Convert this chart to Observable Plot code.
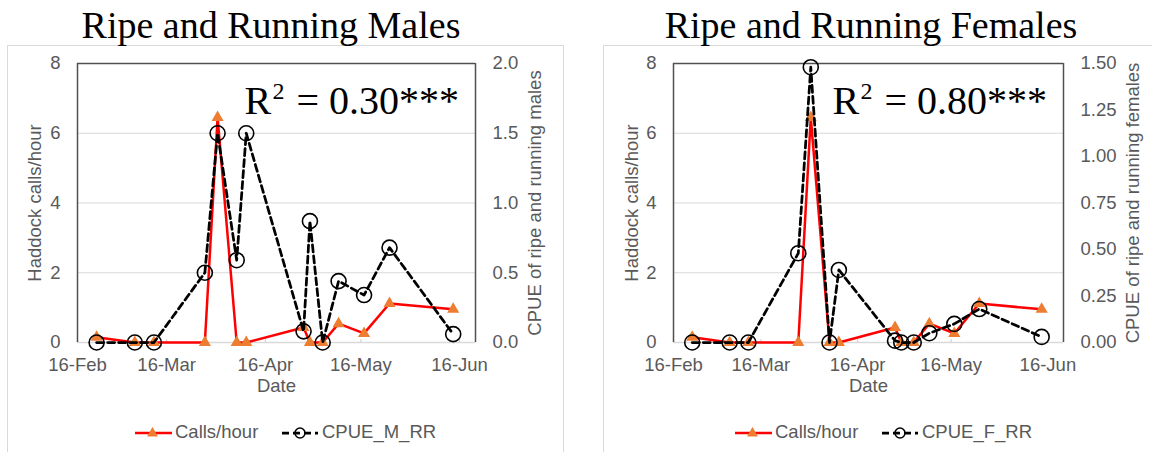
<!DOCTYPE html>
<html>
<head>
<meta charset="utf-8">
<script src="https://cdn.jsdelivr.net/npm/d3@7"></script>
<script src="https://cdn.jsdelivr.net/npm/@observablehq/plot@0.6"></script>
<style>
  html, body { margin: 0; padding: 0; background: white; }
  #root { position: relative; width: 1152px; height: 452px; overflow: hidden; background: white; font-family: "Liberation Sans", Arial, sans-serif; }
  .box { position: absolute; border: 1px solid #d9d9d9; }
  .title { position: absolute; font-family: "Liberation Serif", "Times New Roman", serif; font-size: 38px; color: #000; white-space: nowrap; transform: translateX(-50%); line-height: 1; }
  .plot { position: absolute; }
  .legend { position: absolute; font-size: 18.5px; color: #595959; white-space: nowrap; }
  .legend svg { position: absolute; overflow: visible; }
  .legend span { position: absolute; line-height: 1; }
</style>
</head>
<body>
<div id="root"></div>
<script>
// ---- data ----
const sampleDates = ["2019-02-22","2019-03-06","2019-03-12","2019-03-28","2019-04-01","2019-04-07","2019-04-10","2019-04-28","2019-04-30","2019-05-04","2019-05-09","2019-05-17","2019-05-25","2019-06-14"];
const callsPerHour = [0.15, 0, 0, 0, 6.45, 0, 0, 0.43, 0, 0, 0.54, 0.26, 1.12, 0.95];
const cpueMales   = [0, 0, 0, 0.50, 1.50, 0.59, 1.50, 0.08, 0.87, 0, 0.44, 0.34, 0.68, 0.06];
const cpueFemales = [0, 0, 0, 0.48, 1.48, 0, 0.39, 0.01, 0, 0, 0.05, 0.10, 0.18, 0.03];
const xDomain = ["2019-02-16", "2019-06-21"];
const tickDates = ["2019-02-16","2019-03-16","2019-04-16","2019-05-16","2019-06-16"];
const leftTicks = [0, 2, 4, 6, 8];
const rightTicksMales = [0, 0.5, 1.0, 1.5, 2.0];
const rightTicksFemales = [0, 0.25, 0.5, 0.75, 1.0, 1.25, 1.5];
const titles = ["Ripe and Running Males", "Ripe and Running Females"];
const r2Values = ["= 0.30***", "= 0.80***"];
const seriesNames = ["Calls/hour", "CPUE_M_RR", "CPUE_F_RR"];
const rightTitles = ["CPUE of ripe and running males", "CPUE of ripe and running females"];

const GRAY = "#595959";
const SERIF = "'Liberation Serif', 'Times New Roman', serif";
const fmtDate = d3.utcFormat("%d-%b");

function panel({cpue, rightTicks, digits, rightTitle, r2, width, ml, mr, leftDx, rightDx}) {
  const cpueMax = rightTicks[rightTicks.length - 1];
  const k = 8 / cpueMax;
  const data = sampleDates.map((d, i) => ({date: new Date(d), calls: callsPerHour[i], cpue: cpue[i] * k}));
  const dom = xDomain.map(d => new Date(d));
  const ticks = tickDates.map(d => new Date(d));
  return Plot.plot({
    width, height: 350,
    marginTop: 13, marginBottom: 58, marginLeft: ml, marginRight: mr,
    style: {fontFamily: "'Liberation Sans', Arial, sans-serif", fontSize: "18.5px", color: GRAY, background: "transparent", overflow: "visible"},
    x: {type: "utc", domain: dom},
    y: {domain: [0, 8]},
    marks: [
      Plot.gridY(leftTicks.filter(t => t > 0 && t < 8), {stroke: "#d9d9d9", strokeOpacity: 1, strokeWidth: 1.2}),
      Plot.ruleY([0], {stroke: "#d9d9d9", strokeWidth: 1.5}),
      Plot.ruleX(ticks, {x: d => d, y1: 0, y2: 0.25, insetBottom: -6, stroke: "#d0d0d0", strokeWidth: 1.2}),
      Plot.ruleY([8], {stroke: "#505050", strokeWidth: 1.5}),
      Plot.ruleX(dom, {x: d => d, stroke: "#505050", strokeWidth: 1.5}),
      Plot.axisY(leftTicks, {anchor: "left", tickSize: 0, tickPadding: 17, label: null, fill: GRAY}),
      Plot.axisY(rightTicks.map(t => t * k), {anchor: "right", tickSize: 0, tickPadding: 17, label: null, fill: GRAY, tickFormat: d => (d / k).toFixed(digits)}),
      Plot.axisX(ticks, {anchor: "bottom", tickSize: 0, tickPadding: 15, label: null, fill: GRAY, tickFormat: fmtDate}),
      Plot.text(["Haddock calls/hour"], {frameAnchor: "left", textAnchor: "middle", rotate: -90, dx: leftDx, fill: GRAY, fontSize: 18.5}),
      Plot.text([rightTitle], {frameAnchor: "right", textAnchor: "middle", rotate: -90, dx: rightDx, fill: GRAY, fontSize: 18.5}),
      Plot.text(["Date"], {frameAnchor: "bottom", dy: 49, fill: GRAY, fontSize: 18.5}),
      Plot.line(data, {x: "date", y: "calls", stroke: "#ff0000", strokeWidth: 2.5}),
      Plot.dot(data, {x: "date", y: "calls", symbol: "triangle", fill: "#ed7d31", r: 4.5}),
      Plot.line(data, {x: "date", y: "cpue", stroke: "black", strokeWidth: 2.75, strokeDasharray: "7,4"}),
      Plot.dot(data, {x: "date", y: "cpue", stroke: "black", strokeWidth: 1.6, r: 7.5, fill: "none"}),
      // R² annotation: "R", superscript "2", and value
      Plot.text(["R"], {frameAnchor: "top-right", dx: -231, dy: 50, textAnchor: "start", lineAnchor: "bottom", fontSize: 40, fontFamily: SERIF, fill: "black"}),
      Plot.text(["2"], {frameAnchor: "top-right", dx: -203, dy: 35, textAnchor: "start", lineAnchor: "bottom", fontSize: 24, fontFamily: SERIF, fill: "black"}),
      Plot.text([r2], {frameAnchor: "top-right", dx: -179, dy: 50, textAnchor: "start", lineAnchor: "bottom", fontSize: 40, fontFamily: SERIF, fill: "black"})
    ]
  });
}

const root = document.getElementById("root");
function add(html) { const d = document.createElement("div"); d.innerHTML = html; const el = d.firstElementChild; root.appendChild(el); return el; }

// panel boxes
add(`<div class="box" style="left:7px;top:45px;width:555px;height:440px;"></div>`);
add(`<div class="box" style="left:603px;top:45px;width:560px;height:440px;"></div>`);

// titles
add(`<div class="title" style="left:271px;top:6px;">${titles[0]}</div>`);
add(`<div class="title" style="left:871px;top:6px;">${titles[1]}</div>`);

// plots
const p1 = panel({cpue: cpueMales, rightTicks: rightTicksMales, digits: 1, rightTitle: rightTitles[0], r2: r2Values[0], width: 580, ml: 77, mr: 105, leftDx: -42, rightDx: 60});
const w1 = add(`<div class="plot" style="left:0px;top:50px;"></div>`); w1.appendChild(p1);
const p2 = panel({cpue: cpueFemales, rightTicks: rightTicksFemales, digits: 2, rightTitle: rightTitles[1], r2: r2Values[1], width: 572, ml: 93, mr: 89, leftDx: -41, rightDx: 70});
const w2 = add(`<div class="plot" style="left:580px;top:50px;"></div>`); w2.appendChild(p2);

// legends
function legend(x0, name) {
  const g = add(`<div class="legend" style="left:${x0}px;top:433px;"></div>`);
  g.innerHTML = `
    <svg width="1" height="1" style="left:0;top:0">
      <line x1="0" y1="0" x2="37" y2="0" stroke="#ff0000" stroke-width="2.5"/>
      <path d="M17.5,-6 L23,3.5 L12,3.5 Z" fill="#ed7d31"/>
      <line x1="147" y1="0" x2="183" y2="0" stroke="black" stroke-width="2.75" stroke-dasharray="7,4"/>
      <circle cx="165" cy="0" r="5" fill="none" stroke="black" stroke-width="1.5"/>
    </svg>
    <span style="left:40px;top:-10px">${seriesNames[0]}</span>
    <span style="left:187px;top:-10px">${name}</span>`;
}
legend(135, seriesNames[1]);
legend(735, seriesNames[2]);
</script>
</body>
</html>
